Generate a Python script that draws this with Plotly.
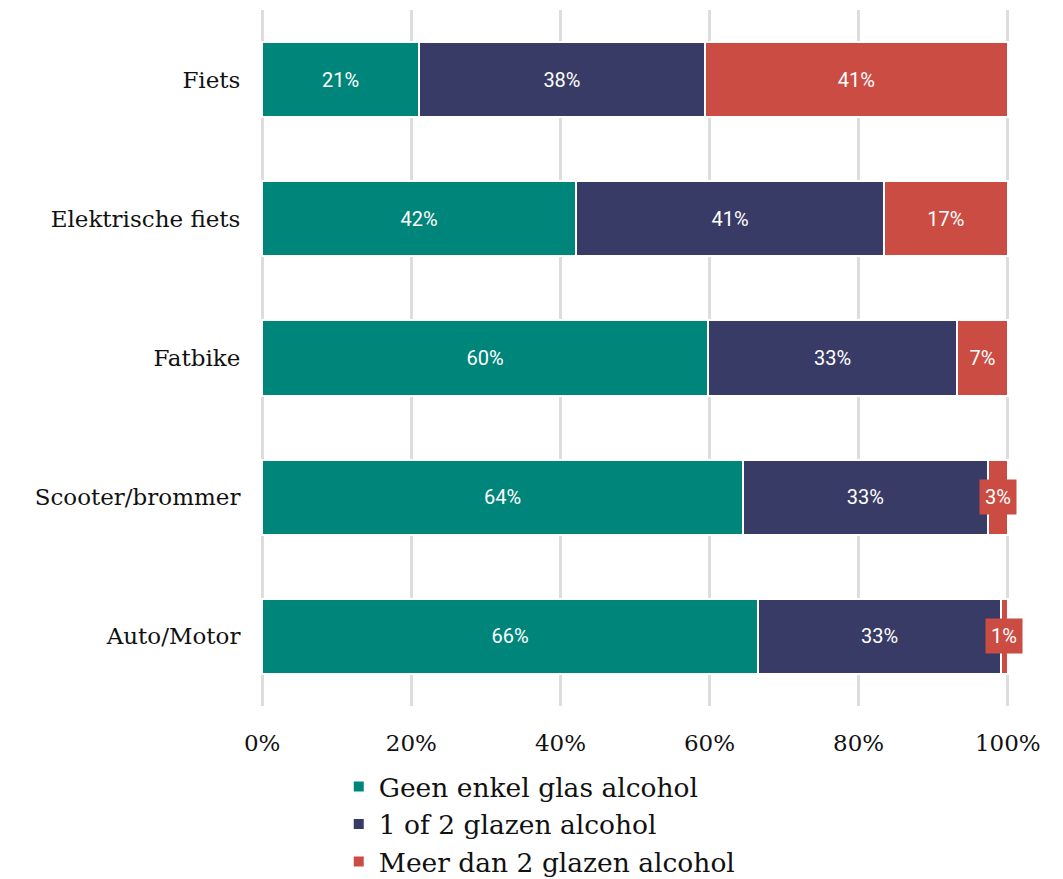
import plotly.graph_objects as go

categories = ["Fiets", "Elektrische fiets", "Fatbike", "Scooter/brommer", "Auto/Motor"]
geen = [21.0, 42.1, 59.8, 64.5, 66.5]
een_of_twee = [38.4, 41.3, 33.4, 32.8, 32.6]
meer = [40.6, 16.6, 6.8, 2.7, 0.9]
series_names = ["Geen enkel glas alcohol", "1 of 2 glazen alcohol", "Meer dan 2 glazen alcohol"]
colors = ["#00857A", "#383B66", "#CA4C43"]
tick_vals = [0, 20, 40, 60, 80, 100]
tick_text = ["0%", "20%", "40%", "60%", "80%", "100%"]

SERIF = "DejaVu Serif"
fig = go.Figure()
series = [geen, een_of_twee, meer]
small_limit = 5
for name, vals, col in zip(series_names, series, colors):
    texts = [f"{round(v)}%" if v >= small_limit else "" for v in vals]
    fig.add_trace(go.Bar(
        y=categories, x=vals, name=name, orientation="h",
        marker=dict(color=col, line=dict(color="white", width=2)),
        text=texts, textposition="inside", insidetextanchor="middle",
        textfont=dict(family="Roboto", size=20, color="white"),
        hoverinfo="skip",
    ))

# small labels shown with a background box
for i, cat in enumerate(categories):
    base = 0
    for vals, col in zip(series, colors):
        v = vals[i]
        if v < small_limit:
            fig.add_annotation(x=base + v / 2, y=cat, text=f"{round(v)}%",
                               showarrow=False, bgcolor=col,
                               font=dict(family="Roboto", size=20, color="white"),
                               borderpad=5)
        base += v

fig.update_layout(
    barmode="stack", bargap=0.46,
    width=1063, height=879,
    margin=dict(l=252, r=61, t=2, b=180),
    plot_bgcolor="white", paper_bgcolor="white",
    font=dict(family=SERIF, color="#111"),
    xaxis=dict(range=[-0.3, 100.3], tickvals=tick_vals, ticktext=tick_text,
               showgrid=True, gridcolor="#DDDDDD", gridwidth=2.5, zeroline=False,
               tickfont=dict(family=SERIF, size=23), ticks="outside", ticklen=16,
               tickcolor="rgba(0,0,0,0)", showline=False),
    yaxis=dict(autorange="reversed", tickfont=dict(family=SERIF, size=23),
               ticks="outside", ticklen=14, tickcolor="rgba(0,0,0,0)", showgrid=False),
    legend=dict(orientation="v", x=0.105, y=-0.08, xanchor="left", yanchor="top",
                font=dict(family=SERIF, size=26.5), traceorder="normal",
                itemwidth=30, tracegroupgap=0),
    showlegend=True,
)
fig.write_html("out.html")
